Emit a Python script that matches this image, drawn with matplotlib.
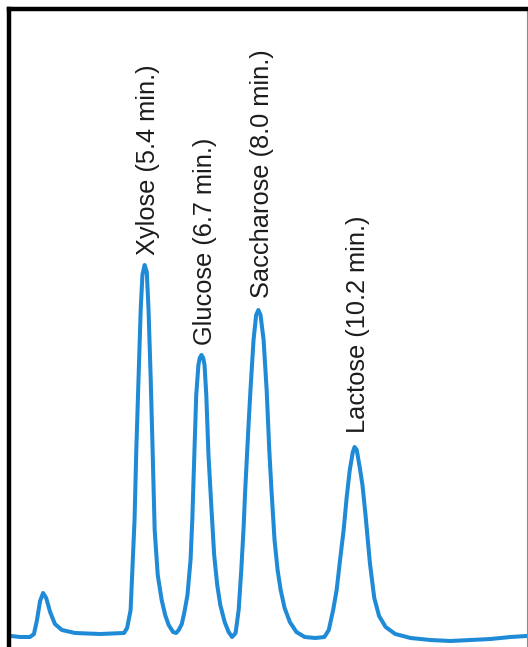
import matplotlib
matplotlib.use("Agg")
import matplotlib.pyplot as plt

# Detector trace of the sugar separation: retention time (min) and response (a.u.)
time_min = [
    2.35, 2.55, 2.78, 2.87, 2.94, 3.01, 3.08, 3.15, 3.24, 3.35, 3.51, 3.81, 4.38,
    4.93, 5.00, 5.08, 5.12, 5.17, 5.21, 5.26, 5.31, 5.35, 5.40, 5.45, 5.49, 5.54,
    5.58, 5.63, 5.70, 5.79, 5.87, 5.95, 6.05, 6.12,
    6.18, 6.25, 6.31, 6.38, 6.45, 6.49, 6.54, 6.58, 6.63, 6.66, 6.70, 6.74, 6.77,
    6.81, 6.86, 6.93, 6.99, 7.06, 7.13, 7.23, 7.32,
    7.40, 7.48, 7.55, 7.61, 7.66, 7.70, 7.77, 7.82, 7.89, 7.95, 8.00, 8.05, 8.12,
    8.19, 8.25, 8.30, 8.37, 8.44, 8.51, 8.60, 8.72, 8.87, 9.06, 9.30,
    9.51, 9.61, 9.71, 9.79, 9.86, 9.95, 10.02, 10.09, 10.16, 10.20, 10.25, 10.32,
    10.38, 10.45, 10.55, 10.65, 10.76, 10.91, 11.13, 11.48, 11.93, 12.39, 12.85,
    13.31, 13.76, 14.13,
]
response = [
    9, 8, 8, 11, 25, 44, 52, 47, 33, 21, 15, 12, 11,
    12, 17, 35, 75, 125, 195, 265, 335, 370, 380, 373, 335, 265,
    200, 115, 70, 45, 30, 20, 13, 12,
    15, 21, 33, 50, 85, 125, 195, 250, 280, 287, 290, 287, 280,
    250, 190, 135, 90, 60, 40, 23, 13,
    8, 12, 35, 75, 115, 155, 215, 255, 305, 330, 335, 330, 305,
    255, 195, 155, 105, 75, 55, 37, 23, 13, 8, 7,
    8, 15, 35, 55, 82, 115, 148, 175, 193, 198, 195, 177,
    160, 130, 82, 47, 29, 18, 11, 7, 5, 4, 5,
    6, 8, 9,
]

# Identified peaks: name, retention time, apex response
peak_names = ["Xylose", "Glucose", "Saccharose", "Lactose"]
peak_times = [5.4, 6.7, 8.0, 10.2]
peak_heights = [380, 290, 335, 198]

W, H, DPI = 528, 647, 100
fig = plt.figure(figsize=(W / DPI, H / DPI), dpi=DPI)
fig.patch.set_facecolor("white")

ax = fig.add_axes([9 / W, 0, (526.5 - 9) / W, 1 - 9 / H])
ax.plot(time_min, response, color="#1f8ad6", lw=2.9, solid_joinstyle="round",
        solid_capstyle="round")

ax.set_xlim(2.30, 14.13)
ax.set_ylim(-2, 636)
ax.set_xticks([])
ax.set_yticks([])

for side in ("left", "top"):
    ax.spines[side].set_color("black")
    ax.spines[side].set_linewidth(3.2)
ax.spines["right"].set_color("#8a8a8a")
ax.spines["right"].set_linewidth(0.8)
ax.spines["bottom"].set_visible(False)

gaps = [10, 10, 12, 14]
for name, t, h, g in zip(peak_names, peak_times, peak_heights, gaps):
    ax.annotate(f"{name} ({t:.1f} min.)", xy=(t, h), xytext=(3.5, g),
                textcoords="offset pixels", rotation=90, ha="center",
                va="bottom", fontsize=18.3, family="Liberation Sans",
                color="#1c1c1c")

fig.savefig("out.png", dpi=DPI)
